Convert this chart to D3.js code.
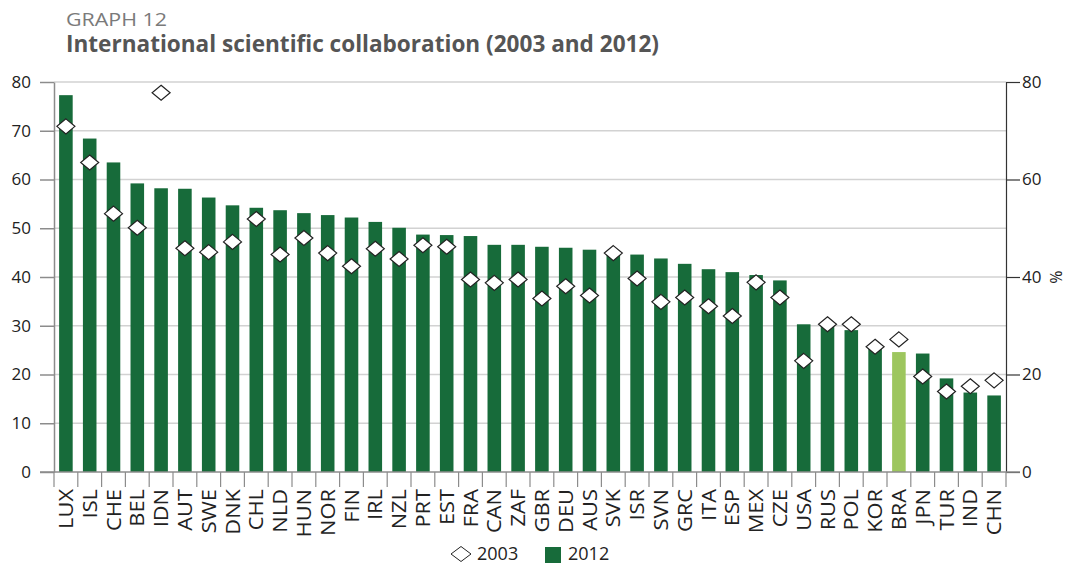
<!DOCTYPE html>
<html>
<head>
<meta charset="utf-8">
<script src="https://cdn.jsdelivr.net/npm/d3@7"></script>
<style>
  body { margin: 0; background: #fff; }
  svg { font-family: "Open Sans", "Noto Sans", sans-serif; }
</style>
</head>
<body>
<div id="chart"></div>
<script>
// values (share of papers with international co-authors, %)
const countries = ['LUX','ISL','CHE','BEL','IDN','AUT','SWE','DNK','CHL','NLD','HUN','NOR','FIN','IRL','NZL','PRT','EST','FRA','CAN','ZAF','GBR','DEU','AUS','SVK','ISR','SVN','GRC','ITA','ESP','MEX','CZE','USA','RUS','POL','KOR','BRA','JPN','TUR','IND','CHN'];
const values2012 = [77.3,68.4,63.5,59.2,58.2,58.1,56.3,54.7,54.2,53.7,53.1,52.7,52.2,51.3,50.1,48.7,48.6,48.4,46.6,46.6,46.2,46.0,45.6,44.6,44.6,43.8,42.7,41.6,41.0,40.4,39.3,30.3,29.9,29.1,25.3,24.6,24.3,19.2,16.3,15.7];
const values2003 = [70.9,63.5,53.0,50.1,77.8,45.9,45.1,47.2,51.9,44.6,48.0,44.9,42.2,45.8,43.7,46.5,46.2,39.5,38.8,39.5,35.6,38.1,36.2,44.9,39.7,34.9,35.8,34.0,32.0,38.9,35.8,22.8,30.3,30.3,25.7,27.2,19.6,16.5,17.6,18.8];
const leftTicks  = [0,10,20,30,40,50,60,70,80];
const rightTicks = [0,20,40,60,80];
const highlight  = 'BRA';

const width  = 1066;
const height = 563;
const margin = { top: 82, right: 60, bottom: 91, left: 54 };
const plotW  = width - margin.left - margin.right;   // 952
const plotH  = height - margin.top - margin.bottom;  // 390

const darkGreen  = '#176b3a';
const lightGreen = '#9dc65e';

const svg = d3.select('#chart')
  .append('svg')
  .attr('width', width)
  .attr('height', height);

// titles
svg.append('text')
  .attr('x', 66).attr('y', 26)
  .attr('textLength', 101).attr('lengthAdjust', 'spacingAndGlyphs')
  .style('font-size', '19px')
  .style('fill', '#7a7a7a')
  .text('GRAPH 12');
svg.append('text')
  .attr('x', 66).attr('y', 52)
  .attr('textLength', 593).attr('lengthAdjust', 'spacingAndGlyphs')
  .style('font-size', '24px')
  .style('font-weight', 'bold')
  .style('fill', '#555')
  .text('International scientific collaboration (2003 and 2012)');

const x = d3.scaleBand()
  .domain(countries)
  .range([margin.left, margin.left + plotW])
  .paddingInner(0.43)
  .paddingOuter(0.215);

const y = d3.scaleLinear()
  .domain([0, 80])
  .range([margin.top + plotH, margin.top]);

// gridlines
svg.append('g')
  .selectAll('line')
  .data(leftTicks.filter(d => d > 0))
  .enter()
  .append('line')
  .attr('x1', margin.left).attr('x2', margin.left + plotW)
  .attr('y1', d => y(d)).attr('y2', d => y(d))
  .attr('stroke', '#d2d2d2')
  .attr('stroke-width', 1.5);

// bars (2012)
svg.append('g')
  .selectAll('rect')
  .data(countries)
  .enter()
  .append('rect')
  .attr('x', d => x(d))
  .attr('width', x.bandwidth())
  .attr('y', (d, i) => y(values2012[i]))
  .attr('height', (d, i) => y(0) - y(values2012[i]))
  .attr('fill', d => d === highlight ? lightGreen : darkGreen);

// diamonds (2003)
const diamond = (hw, hh) => `M0,${-hh}L${hw},0L0,${hh}L${-hw},0Z`;
svg.append('g')
  .selectAll('path')
  .data(countries)
  .enter()
  .append('path')
  .attr('transform', (d, i) => `translate(${x(d) + x.bandwidth() / 2},${y(values2003[i])})`)
  .attr('d', diamond(9, 7.5))
  .attr('fill', '#fff')
  .attr('stroke', '#222')
  .attr('stroke-width', 1.2);

// left axis
const leftAxis = svg.append('g')
  .attr('transform', `translate(${margin.left},0)`)
  .call(d3.axisLeft(y).tickValues(leftTicks).tickSize(14).tickSizeOuter(0).tickFormat(d3.format('d')));
leftAxis.select('.domain').attr('stroke', '#8c8c8c').attr('stroke-width', 1.5);
leftAxis.selectAll('.tick line').attr('stroke', '#8c8c8c').attr('stroke-width', 1.5);
leftAxis.selectAll('.tick text')
  .attr('x', -23)
  .style('font-size', '17px')
  .style('fill', '#222')
  .style('font-family', '"Open Sans", sans-serif');

// right axis
const rightAxis = svg.append('g')
  .attr('transform', `translate(${margin.left + plotW},0)`)
  .call(d3.axisRight(y).tickValues(rightTicks).tickSize(14).tickSizeOuter(0).tickFormat(d3.format('d')));
rightAxis.select('.domain').attr('stroke', '#333').attr('stroke-width', 1.2);
rightAxis.selectAll('.tick line').attr('stroke', '#333').attr('stroke-width', 1.2);
rightAxis.selectAll('.tick text')
  .attr('x', 16)
  .style('font-size', '17px')
  .style('fill', '#222')
  .style('font-family', '"Open Sans", sans-serif');

svg.append('text')
  .attr('transform', `translate(1050,${y(40)}) rotate(90)`)
  .attr('text-anchor', 'middle')
  .style('font-size', '16px')
  .style('fill', '#222')
  .text('%');

// x baseline + category ticks at band edges
svg.append('line')
  .attr('x1', margin.left - 14).attr('x2', margin.left + plotW + 14)
  .attr('y1', y(0)).attr('y2', y(0))
  .attr('stroke', '#8c8c8c').attr('stroke-width', 1.5);

svg.append('g')
  .selectAll('line')
  .data(d3.range(countries.length + 1))
  .enter()
  .append('line')
  .attr('x1', i => margin.left + i * x.step())
  .attr('x2', i => margin.left + i * x.step())
  .attr('y1', y(0)).attr('y2', y(0) + 15)
  .attr('stroke', '#8c8c8c').attr('stroke-width', 1.2);

// labels stretched a bit along their length, the original face is wider
svg.append('g')
  .selectAll('text')
  .data(countries)
  .enter()
  .append('text')
  .attr('transform', d => `translate(${x(d) + x.bandwidth() / 2},489) rotate(-90) scale(1.12,1)`)
  .attr('text-anchor', 'end')
  .attr('dy', '0.36em')
  .style('font-size', '19.5px')
  .style('fill', '#222')
  .text(d => d);

// legend
const legend = svg.append('g');
legend.append('path')
  .attr('transform', 'translate(461,554)')
  .attr('d', diamond(10, 7.5))
  .attr('fill', '#fff')
  .attr('stroke', '#222');
legend.append('text')
  .attr('x', 477).attr('y', 560)
  .style('font-size', '18px').style('fill', '#222')
  .text('2003');
legend.append('rect')
  .attr('x', 545).attr('y', 547)
  .attr('width', 16).attr('height', 16)
  .attr('fill', darkGreen);
legend.append('text')
  .attr('x', 568).attr('y', 560)
  .style('font-size', '18px').style('fill', '#222')
  .text('2012');
</script>
</body>
</html>
